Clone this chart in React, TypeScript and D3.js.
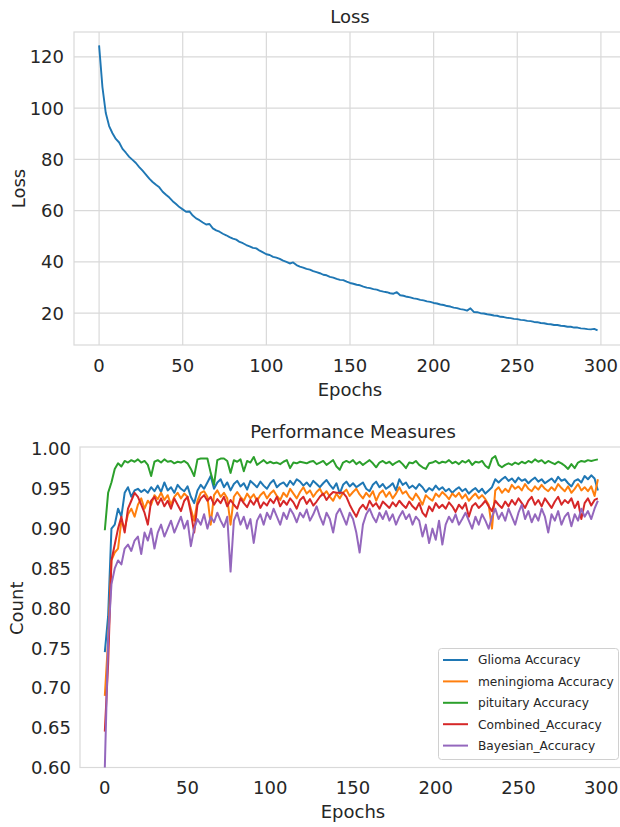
import React from 'react';
import * as d3 from 'd3';

// epochs sampled every 2nd epoch
const epochs = d3.range(0, 300, 2);

const lossValues = [
  124.5, 108.2, 98.1, 93.0, 90.2, 88.0, 86.6, 84.1, 82.6, 81.0,
  79.8, 78.6, 77.0, 75.6, 74.1, 72.5, 71.2, 70.1, 69.1, 67.4,
  66.2, 65.1, 63.7, 62.6, 61.4, 60.5, 59.6, 59.7, 58.1, 57.0,
  56.3, 55.4, 54.6, 54.8, 53.1, 52.3, 51.8, 51.0, 50.4, 49.7,
  49.1, 48.7, 47.8, 47.3, 46.6, 46.1, 45.5, 45.3, 44.4, 43.7,
  43.0, 42.7, 42.0, 41.7, 41.2, 40.5, 40.0, 39.4, 39.8, 38.8,
  38.2, 37.8, 37.3, 37.0, 36.4, 36.0, 35.6, 35.0, 34.8, 34.2,
  33.9, 33.4, 33.0, 32.9, 32.3, 31.8, 31.5, 31.1, 30.9, 30.4,
  30.0, 29.8, 29.4, 29.2, 28.7, 28.4, 28.2, 27.8, 27.6, 28.2,
  27.0, 26.8, 26.4, 26.2, 25.8, 25.6, 25.2, 25.0, 24.6, 24.4,
  24.0, 23.8, 23.4, 23.2, 22.8, 22.6, 22.2, 22.0, 21.6, 21.4,
  21.0, 21.9, 20.5, 20.4, 20.0, 19.9, 19.6, 19.4, 19.1, 19.0,
  18.6, 18.5, 18.2, 18.1, 17.8, 17.7, 17.4, 17.3, 17.0, 16.9,
  16.6, 16.5, 16.2, 16.1, 15.8, 15.7, 15.4, 15.4, 15.1, 15.0,
  14.7, 14.7, 14.4, 14.4, 14.1, 14.0, 13.8, 13.7, 13.9, 13.3,
];

const glioma = [
  0.745, 0.790, 0.900, 0.905, 0.925, 0.915, 0.945, 0.952, 0.940, 0.948,
  0.950, 0.946, 0.949, 0.945, 0.952, 0.947, 0.954, 0.946, 0.958, 0.948,
  0.952, 0.945, 0.955, 0.950, 0.947, 0.953, 0.940, 0.932, 0.948, 0.955,
  0.950, 0.958, 0.966, 0.950, 0.958, 0.962, 0.952, 0.958, 0.948, 0.956,
  0.960, 0.953, 0.957, 0.949, 0.960, 0.956, 0.952, 0.959, 0.954, 0.950,
  0.957, 0.961, 0.952, 0.956, 0.958, 0.953, 0.960, 0.955, 0.962, 0.959,
  0.954, 0.958, 0.953, 0.960, 0.956, 0.952, 0.957, 0.961, 0.955, 0.950,
  0.957, 0.944, 0.955, 0.959, 0.953, 0.957, 0.952, 0.955, 0.958, 0.950,
  0.947, 0.955, 0.959, 0.952, 0.956, 0.950, 0.953, 0.957, 0.948, 0.962,
  0.955, 0.958, 0.951, 0.954, 0.950, 0.956, 0.952, 0.946, 0.951, 0.948,
  0.954, 0.949, 0.952, 0.947, 0.950, 0.945, 0.949, 0.952, 0.947, 0.950,
  0.944, 0.948, 0.951, 0.946, 0.950, 0.944, 0.948, 0.952, 0.962, 0.958,
  0.962, 0.965, 0.960, 0.963, 0.958, 0.964, 0.960, 0.962, 0.957, 0.961,
  0.964, 0.959, 0.962, 0.957, 0.960, 0.963, 0.958, 0.965, 0.960, 0.962,
  0.957, 0.953, 0.960, 0.962, 0.958, 0.966, 0.962, 0.967, 0.963, 0.948,
];

const meningioma = [
  0.690, 0.760, 0.860, 0.870, 0.875, 0.910, 0.900, 0.918, 0.925, 0.915,
  0.930, 0.938, 0.925, 0.935, 0.930, 0.942, 0.937, 0.945, 0.936, 0.942,
  0.930, 0.940, 0.945, 0.938, 0.944, 0.940, 0.925, 0.910, 0.935, 0.945,
  0.947, 0.940, 0.905, 0.942, 0.948, 0.940, 0.945, 0.938, 0.905, 0.940,
  0.946, 0.940, 0.935, 0.944, 0.938, 0.943, 0.935, 0.942, 0.946, 0.938,
  0.944, 0.948, 0.941, 0.936, 0.945, 0.940, 0.950, 0.944, 0.938, 0.946,
  0.952, 0.944, 0.948, 0.940, 0.946, 0.950, 0.942, 0.947, 0.940, 0.935,
  0.944, 0.938, 0.945, 0.949, 0.941, 0.946, 0.950, 0.943, 0.938, 0.945,
  0.940, 0.947, 0.935, 0.944, 0.948, 0.940, 0.946, 0.938, 0.944, 0.952,
  0.944, 0.947, 0.940, 0.936, 0.944, 0.938, 0.930, 0.942, 0.938, 0.935,
  0.944, 0.940, 0.946, 0.942, 0.937, 0.944, 0.940, 0.945, 0.938, 0.943,
  0.935, 0.940, 0.944, 0.938, 0.942, 0.937, 0.930, 0.900, 0.948, 0.952,
  0.945, 0.950, 0.946, 0.955, 0.950, 0.953, 0.948, 0.956, 0.950, 0.947,
  0.953, 0.949, 0.955, 0.950, 0.947, 0.952, 0.948, 0.956, 0.951, 0.947,
  0.953, 0.945, 0.950, 0.956, 0.948, 0.952, 0.947, 0.953, 0.941, 0.962,
];

const pituitary = [
  0.898, 0.945, 0.958, 0.975, 0.982, 0.978, 0.985, 0.983, 0.986, 0.984,
  0.987, 0.983, 0.985, 0.980, 0.966, 0.984, 0.986, 0.983, 0.987, 0.984,
  0.985, 0.982, 0.984, 0.983, 0.985, 0.982, 0.975, 0.966, 0.987, 0.988,
  0.988, 0.988, 0.970, 0.955, 0.986, 0.988, 0.988, 0.985, 0.970, 0.986,
  0.984, 0.987, 0.972, 0.985, 0.983, 0.990, 0.980, 0.983, 0.986, 0.982,
  0.984, 0.982, 0.983, 0.981, 0.984, 0.986, 0.976, 0.983, 0.982, 0.984,
  0.983, 0.982, 0.984, 0.985, 0.981, 0.983, 0.985, 0.980, 0.983, 0.986,
  0.978, 0.974, 0.983, 0.985, 0.983, 0.986, 0.981, 0.984, 0.980, 0.983,
  0.986, 0.982, 0.977, 0.983, 0.985, 0.982, 0.984, 0.980, 0.983, 0.985,
  0.981, 0.976, 0.983, 0.982, 0.985, 0.980, 0.977, 0.975, 0.982, 0.983,
  0.985, 0.982, 0.984, 0.983, 0.986, 0.982, 0.984, 0.981, 0.985, 0.983,
  0.986, 0.980, 0.984, 0.983, 0.985, 0.979, 0.976, 0.988, 0.991, 0.980,
  0.977, 0.980, 0.982, 0.980, 0.983, 0.981, 0.984, 0.982, 0.985, 0.983,
  0.987, 0.984, 0.986, 0.982, 0.985, 0.983, 0.981, 0.984, 0.982, 0.979,
  0.975, 0.981, 0.976, 0.983, 0.985, 0.984, 0.986, 0.985, 0.986, 0.987,
];

const combined = [
  0.645, 0.730, 0.860, 0.880, 0.900, 0.915, 0.895, 0.925, 0.935, 0.945,
  0.940, 0.930, 0.920, 0.905, 0.935, 0.940, 0.930, 0.938, 0.928, 0.935,
  0.925, 0.938, 0.930, 0.922, 0.935, 0.940, 0.920, 0.895, 0.930, 0.938,
  0.942, 0.935, 0.940, 0.930, 0.937, 0.932, 0.940, 0.928, 0.936, 0.930,
  0.925, 0.938, 0.932, 0.927, 0.936, 0.930, 0.938, 0.926, 0.933, 0.929,
  0.937, 0.932, 0.940, 0.928, 0.935, 0.930, 0.938, 0.933, 0.925, 0.936,
  0.940, 0.931, 0.937, 0.929, 0.934, 0.940, 0.944, 0.936, 0.942, 0.946,
  0.945, 0.945, 0.945, 0.940, 0.930, 0.922, 0.915, 0.925, 0.930, 0.924,
  0.935, 0.928, 0.932, 0.925, 0.934, 0.930, 0.926, 0.933, 0.928, 0.935,
  0.930, 0.926, 0.934, 0.928, 0.924, 0.932, 0.920, 0.915, 0.928, 0.922,
  0.932, 0.926, 0.930, 0.925, 0.933, 0.928, 0.921, 0.930, 0.925, 0.932,
  0.915, 0.928, 0.932, 0.926, 0.930, 0.935, 0.928, 0.922, 0.935, 0.930,
  0.926, 0.934, 0.928, 0.936, 0.930, 0.938, 0.932, 0.926, 0.935, 0.940,
  0.930, 0.936, 0.928, 0.938, 0.932, 0.926, 0.934, 0.940, 0.930, 0.936,
  0.932, 0.938, 0.926, 0.934, 0.912, 0.932, 0.938, 0.929, 0.936, 0.938,
];

const bayesian = [
  0.600, 0.760, 0.830, 0.850, 0.860, 0.855, 0.875, 0.880, 0.872, 0.885,
  0.890, 0.868, 0.895, 0.885, 0.900, 0.875, 0.895, 0.905, 0.890, 0.900,
  0.910, 0.895, 0.905, 0.915, 0.900, 0.910, 0.878, 0.900, 0.912, 0.905,
  0.918, 0.900, 0.915, 0.908, 0.920, 0.910, 0.902, 0.915, 0.846, 0.910,
  0.920, 0.905, 0.915, 0.900, 0.912, 0.882, 0.910, 0.918, 0.905, 0.920,
  0.912, 0.925, 0.915, 0.905, 0.920, 0.912, 0.925, 0.918, 0.908, 0.920,
  0.914, 0.924, 0.910, 0.918, 0.928, 0.915, 0.905, 0.920, 0.912, 0.895,
  0.918, 0.925, 0.915, 0.905, 0.920, 0.912, 0.895, 0.870, 0.905, 0.918,
  0.925, 0.915, 0.908, 0.920, 0.912, 0.922, 0.910, 0.918, 0.905, 0.915,
  0.922, 0.912, 0.918, 0.905, 0.915, 0.910, 0.890, 0.905, 0.882, 0.900,
  0.886, 0.910, 0.880, 0.905, 0.915, 0.908, 0.918, 0.905, 0.912, 0.920,
  0.910, 0.900, 0.915, 0.905, 0.918, 0.910, 0.900, 0.915, 0.925, 0.912,
  0.920, 0.910, 0.925, 0.915, 0.905, 0.920, 0.930, 0.912, 0.922, 0.908,
  0.918, 0.910, 0.925, 0.915, 0.895, 0.918, 0.910, 0.922, 0.905, 0.915,
  0.920, 0.903, 0.918, 0.910, 0.925, 0.915, 0.922, 0.912, 0.925, 0.935,
];

const seriesNames = ['Glioma Accuracy', 'meningioma Accuracy', 'pituitary Accuracy', 'Combined_Accuracy', 'Bayesian_Accuracy'];
const seriesData = [glioma, meningioma, pituitary, combined, bayesian];
const seriesColors = ['#1f77b4', '#ff7f0e', '#2ca02c', '#d62728', '#9467bd'];

const xTicks = [0, 50, 100, 150, 200, 250, 300];
const lossTicks = [20, 40, 60, 80, 100, 120];
const accTicks = [0.6, 0.65, 0.7, 0.75, 0.8, 0.85, 0.9, 0.95, 1.0];

const FONT = 'DejaVu Sans';
const TEXT = '#262626';
const GRID = '#d9d9d9';

const App = () => {
  // top panel: Loss
  const top = { left: 74, right: 626, top: 32, bottom: 345 };
  const x1 = d3.scaleLinear().domain([-15, 315]).range([top.left, top.right]);
  const y1 = d3.scaleLinear().domain([7.6, 129.7]).range([top.bottom, top.top]);
  const lossLine = d3.line<number>()
    .x((d, i) => x1(epochs[i]))
    .y(d => y1(d));

  // bottom panel: Performance Measures
  const bot = { left: 80, right: 626, top: 449, bottom: 767.5 };
  const x2 = d3.scaleLinear().domain([-15, 315]).range([bot.left, bot.right]);
  const y2 = d3.scaleLinear().domain([0.6, 1.0]).range([bot.bottom, bot.top]);
  const accLine = d3.line<number>()
    .x((d, i) => x2(epochs[i]))
    .y(d => y2(d));

  const legend = { x: 438.5, y: 648.5, w: 180, h: 111 };

  return (
    <svg width={620} height={827} style={{ position: 'absolute', left: 0, top: 0, background: '#fff' }}
      fontFamily={FONT} fill={TEXT}>
      <rect width={620} height={827} fill="#fff" />

      {/* Loss panel */}
      <text x={(top.left + top.right) / 2} y={23} textAnchor="middle" fontSize={18}>Loss</text>
      {xTicks.map(t => (
        <line key={'gx' + t} x1={x1(t)} x2={x1(t)} y1={top.top} y2={top.bottom} stroke={GRID} strokeWidth={1.2} />
      ))}
      {lossTicks.map(t => (
        <line key={'gy' + t} x1={top.left} x2={top.right} y1={y1(t)} y2={y1(t)} stroke={GRID} strokeWidth={1.2} />
      ))}
      <rect x={top.left} y={top.top} width={top.right - top.left} height={top.bottom - top.top}
        fill="none" stroke={GRID} strokeWidth={1.2} />
      <path d={lossLine(lossValues) || ''} fill="none" stroke="#1f77b4" strokeWidth={1.9} strokeLinejoin="round" />
      {xTicks.map(t => (
        <text key={'tx' + t} x={x1(t)} y={top.bottom + 27} textAnchor="middle" fontSize={18}>{t}</text>
      ))}
      {lossTicks.map(t => (
        <text key={'ty' + t} x={top.left - 10} y={y1(t)} dy="0.36em" textAnchor="end" fontSize={18}>{t}</text>
      ))}
      <text x={(top.left + top.right) / 2} y={396} textAnchor="middle" fontSize={18}>Epochs</text>
      <text transform={`translate(25,${(top.top + top.bottom) / 2}) rotate(-90)`} textAnchor="middle" fontSize={18}>Loss</text>

      {/* Performance panel */}
      <text x={(bot.left + bot.right) / 2} y={438} textAnchor="middle" fontSize={18}>Performance Measures</text>
      <rect x={bot.left} y={bot.top - 2} width={bot.right - bot.left} height={bot.bottom - bot.top + 2}
        fill="none" stroke={GRID} strokeWidth={1.2} />
      {seriesData.map((s, k) => (
        <path key={'s' + k} d={accLine(s) || ''} fill="none" stroke={seriesColors[k]} strokeWidth={2} strokeLinejoin="round" />
      ))}
      {xTicks.map(t => (
        <text key={'bx' + t} x={x2(t)} y={bot.bottom + 26} textAnchor="middle" fontSize={18}>{t}</text>
      ))}
      {accTicks.map(t => (
        <text key={'by' + t} x={bot.left - 9} y={y2(t)} dy="0.36em" textAnchor="end" fontSize={18}>{t.toFixed(2)}</text>
      ))}
      <text x={(bot.left + bot.right) / 2} y={818} textAnchor="middle" fontSize={18}>Epochs</text>
      <text transform={`translate(23,${(bot.top + bot.bottom) / 2}) rotate(-90)`} textAnchor="middle" fontSize={18}>Count</text>

      {/* legend */}
      <rect x={legend.x} y={legend.y} width={legend.w} height={legend.h} rx={3}
        fill="#fff" fillOpacity={0.85} stroke="#d0d0d0" strokeWidth={1} />
      {seriesNames.map((name, k) => {
        const cy = legend.y + 11.5 + k * 21.4;
        return (
          <g key={'lg' + k}>
            <line x1={443} x2={468} y1={cy} y2={cy} stroke={seriesColors[k]} strokeWidth={2} />
            <text x={478} y={cy} dy="0.36em" fontSize={12.2}>{name}</text>
          </g>
        );
      })}
    </svg>
  );
};

export default App;
